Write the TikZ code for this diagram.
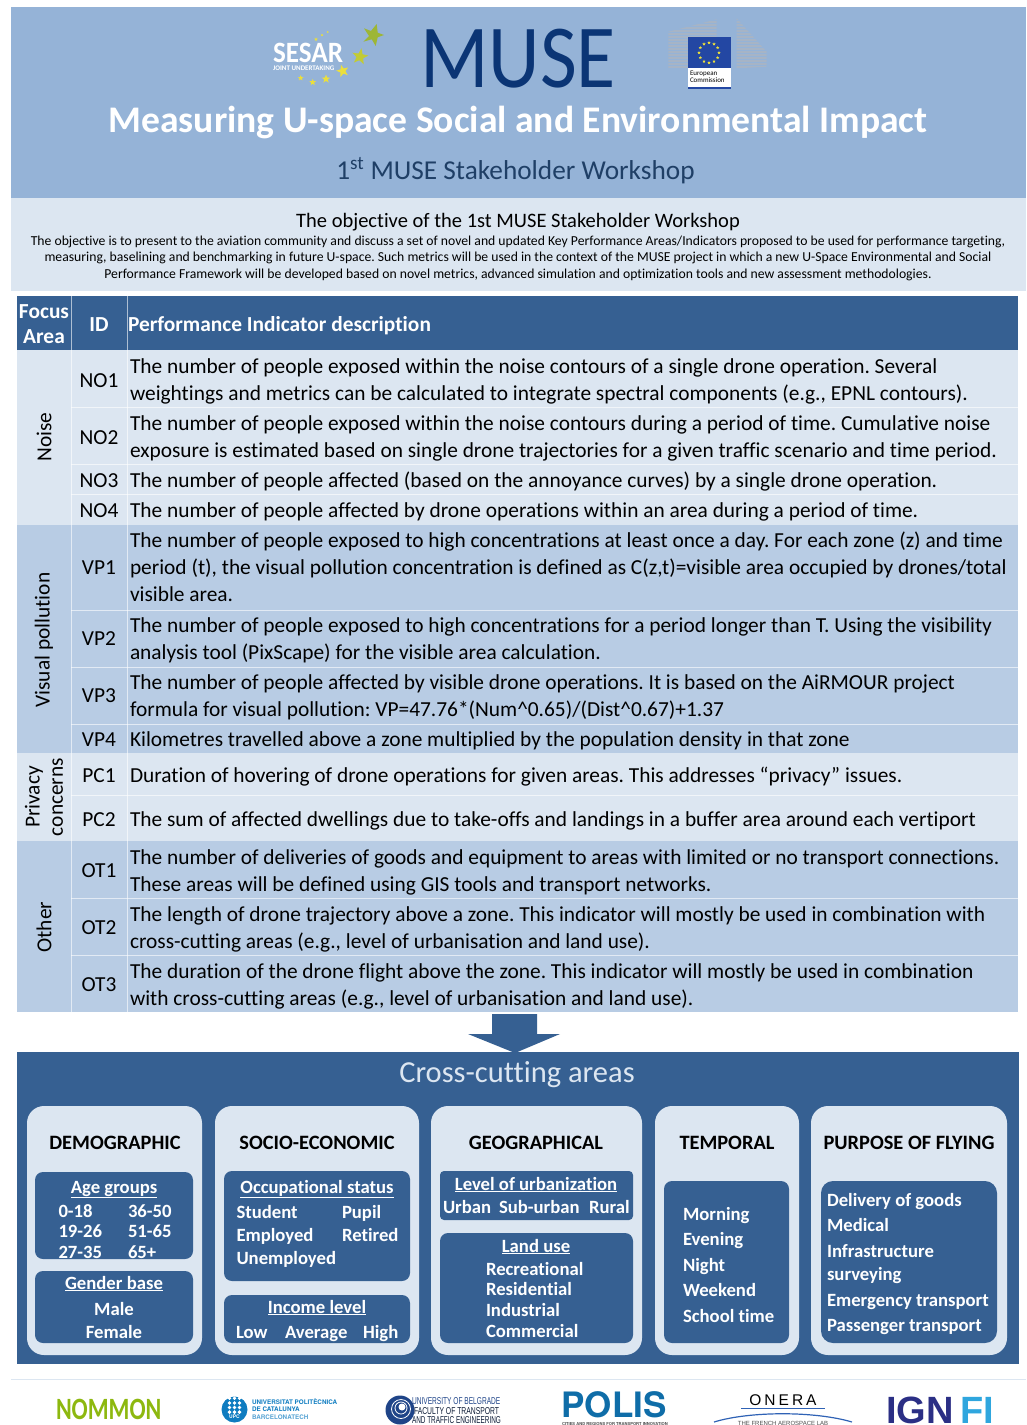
\documentclass[tikz,border=0pt]{standalone}
\usepackage{fontspec}
\usepackage{graphicx}
\setmainfont[Ligatures=CommonOff]{Carlito}
\newfontfamily\heros{TeX Gyre Heros}
\newfontfamily\libsans{Liberation Sans}
\usetikzlibrary{shapes.geometric}
\definecolor{headblue}{HTML}{95B3D7}
\definecolor{paleblue}{HTML}{DCE6F1}
\definecolor{midblue}{HTML}{B8CCE4}
\definecolor{darkblue}{HTML}{366092}
\definecolor{navy}{HTML}{0B3575}
\definecolor{subnavy}{HTML}{1F3F66}
\definecolor{sesgreen}{HTML}{9DB636}
\definecolor{sesmid}{HTML}{C2CB35}
\definecolor{sesyellow}{HTML}{EBDF3C}
\definecolor{ecblue}{HTML}{2347A3}
\definecolor{ecgrey}{HTML}{A6B4C6}
\definecolor{nomgreen}{HTML}{8DB80F}
\definecolor{upcblue}{HTML}{0F7CC0}
\definecolor{belnavy}{HTML}{1F4488}
\definecolor{polisblue}{HTML}{0F6DA8}
\definecolor{oneblue}{HTML}{2F62B5}
\definecolor{ignnavy}{HTML}{2B2F85}
\definecolor{igncyan}{HTML}{2FA6DE}
\newcommand{\fs}[1]{\fontsize{#1}{#1}\selectfont}
\frenchspacing
\tikzset{
  x=1pt,y=-1pt,
  tl/.style={anchor=base west,inner sep=0pt,outer sep=0pt},
  tc/.style={anchor=base,inner sep=0pt,outer sep=0pt},
  body/.style={tl,font=\fs{21.38},text=black},
  idtxt/.style={tc,font=\fs{21.38},text=black},
  focus/.style={anchor=center,inner sep=0pt,rotate=90,font=\fs{21.38},text=black},
  headtxt/.style={font=\fs{21.4}\bfseries,text=white},
  para/.style={tc,font=\fs{13.7},text=black},
  cathead/.style={tc,font=\fs{20.4}\bfseries,text=black},
  inl/.style={tl,font=\fs{18.7}\bfseries,text=white},
  inc/.style={tc,font=\fs{18.7}\bfseries,text=white},
  cat/.style={fill=paleblue,rounded corners=17pt},
  inbox/.style={fill=darkblue,rounded corners=8pt},
  sep/.style={draw=white,line width=0.7pt,opacity=.6},
  gstar/.style={star,star points=5,star point ratio=2.4,inner sep=0pt,draw=none},
}
\begin{document}
\begin{tikzpicture}
\useasboundingbox (0,0) rectangle (1026,1425);
% bands
\fill[headblue] (11,7) rectangle (1026,198);
\fill[paleblue] (11,198) rectangle (1026,291);
% SESAR logo
\node[tl,font=\fs{29.5}\bfseries,text=white] (sesar) at (273,62) {\scalebox{.92}[1]{SESAR}};
\node[tl,font=\fs{7}\bfseries,text=white] (joint) at (273,70) {JOINT UNDERTAKING};
\fill[sesgreen] (376.7,24) -- (377.7,32.7) -- (384,35) -- (377.7,37.3) -- (375.7,46) -- (371.7,39.3) -- (363.3,41.7) -- (369,36) -- (364,28.3) -- (371,31) -- cycle;
\node[gstar,fill=sesmid,minimum size=17pt,rotate=-10] (s2) at (360,56.7) {};
\node[gstar,fill=sesyellow,minimum size=13pt,rotate=15] (s3) at (342.7,71) {};
\node[gstar,fill=sesyellow,minimum size=9pt] (s4) at (326,79) {};
\node[gstar,fill=sesyellow,minimum size=7pt] (s5) at (312.7,82.3) {};
\node[gstar,fill=sesyellow,minimum size=6pt] (s6) at (300.7,78) {};
\node[gstar,fill=sesyellow,minimum size=4pt] (s7) at (316,39.3) {};
\node[gstar,fill=sesyellow,minimum size=3pt] (s8) at (322,35) {};
\node[gstar,fill=sesyellow,minimum size=2.5pt] (s9) at (327.7,32) {};
% MUSE
\node[tc,font=\fs{90},text=navy] (muse) at (518,87) {\scalebox{.89}[1]{MUSE}};
% EC logo
\fill[ecgrey] (668.3,31.7) -- (716.7,19.3) -- (716.7,37.3) -- (688.3,37.3) -- (688.3,68.3) -- (668.3,68.3) -- cycle;
\fill[ecgrey] (736.7,18.3) -- (766.7,51.7) -- (766.7,66.7) -- (736.7,68.3) -- cycle;
\foreach \yy in {20,23,...,68}{\draw[headblue,line width=.8pt] (666,\yy) -- (718,\yy);\draw[headblue,line width=.8pt] (735,\yy) -- (768,\yy);}
\fill[white] (688,68) rectangle (731,87);
\fill[ecblue] (688,37) rectangle (731,68);
\fill[ecblue] (688,86.5) rectangle (731,89);
\foreach \a in {0,30,...,330}{\node[gstar,fill=sesyellow,minimum size=3.5pt] at ({709+10*cos(\a)},{52.7+10*sin(\a)}) {};}
\node[tl,font=\fs{7},text=black] (ec1) at (690,75) {European};
\node[tl,font=\fs{7},text=black] (ec2) at (690,82) {Commission};
% Titles
\node[tc,font=\fs{37.6}\bfseries,text=white] (title) at (518,132) {Measuring U-space Social and Environmental Impact};
\node[tc,font=\fs{27.3},text=subnavy] (sub) at (515.5,179) {1\textsuperscript{st} MUSE Stakeholder Workshop};
\node[tc,font=\fs{20.5},text=black] (objh) at (518,227) {The objective of the 1st MUSE Stakeholder Workshop};
\node[para] (p1) at (518,245) {The objective is to present to the aviation community and discuss a set of novel and updated Key Performance Areas/Indicators proposed to be used for performance targeting,};
\node[para] (p2) at (518,261.5) {measuring, baselining and benchmarking in future U-space. Such metrics will be used in the context of the MUSE project in which a new U-Space Environmental and Social};
\node[para] (p3) at (518,278) {Performance Framework will be developed based on novel metrics, advanced simulation and optimization tools and new assessment methodologies.};
% Table fills
\fill[darkblue] (17,296) rectangle (1018,350);
\fill[paleblue] (17,350) rectangle (1018,525);
\fill[midblue] (17,525) rectangle (1018,753);
\fill[paleblue] (17,753) rectangle (1018,841);
\fill[midblue] (17,841) rectangle (1018,1012);
% separators
\foreach \yy in {407,464,494,610,667,724,795,898,955}{\draw[sep] (71,\yy) -- (1018,\yy);}
\foreach \xx in {71,127}{\draw[sep] (\xx,296) -- (\xx,1012);}
% header
\node[tc,headtxt] (hf1) at (44,318) {Focus};
\node[tc,headtxt] (hf2) at (44,343) {Area};
\node[tc,headtxt] (hid) at (99,331) {ID};
\node[tl,headtxt] (hp) at (128,331) {Performance Indicator description};
% focus areas
\node[focus] (fnoise) at (44,437) {Noise};
\node[focus] (fvp) at (44,640) {Visual pollution};
\node[focus,align=center] (fpc) at (44,797) {Privacy\\[2pt]concerns};
\node[focus] (fot) at (44,927) {Other};
% IDs
\node[idtxt] (no1) at (99,387) {NO1};
\node[idtxt] (no2) at (99,444) {NO2};
\node[idtxt] (no3) at (99,487) {NO3};
\node[idtxt] (no4) at (99,517) {NO4};
\node[idtxt] (vp1) at (99,574) {VP1};
\node[idtxt] (vp2) at (99,645) {VP2};
\node[idtxt] (vp3) at (99,702) {VP3};
\node[idtxt] (vp4) at (99,746) {VP4};
\node[idtxt] (pc1) at (99,782) {PC1};
\node[idtxt] (pc2) at (99,826) {PC2};
\node[idtxt] (ot1) at (99,877) {OT1};
\node[idtxt] (ot2) at (99,934) {OT2};
\node[idtxt] (ot3) at (99,991) {OT3};
% descriptions
\node[body] (d1a) at (130,373) {The number of people exposed within the noise contours of a single drone operation. Several};
\node[body] (d1b) at (130,400) {weightings and metrics can be calculated to integrate spectral components (e.g., EPNL contours).};
\node[body] (d2a) at (130,430) {The number of people exposed within the noise contours during a period of time. Cumulative noise};
\node[body] (d2b) at (130,457) {exposure is estimated based on single drone trajectories for a given traffic scenario and time period.};
\node[body] (d3) at (130,487) {The number of people affected (based on the annoyance curves) by a single drone operation.};
\node[body] (d4) at (130,517) {The number of people affected by drone operations within an area during a period of time.};
\node[body] (d5a) at (130,547) {The number of people exposed to high concentrations at least once a day. For each zone (z) and time};
\node[body] (d5b) at (130,574) {period (t), the visual pollution concentration is defined as C(z,t)=visible area occupied by drones/total};
\node[body] (d5c) at (130,601) {visible area.};
\node[body] (d6a) at (130,632) {The number of people exposed to high concentrations for a period longer than T. Using the visibility};
\node[body] (d6b) at (130,659) {analysis tool (PixScape) for the visible area calculation.};
\node[body] (d7a) at (130,689) {The number of people affected by visible drone operations. It is based on the AiRMOUR project};
\node[body] (d7b) at (130,716) {formula for visual pollution: VP=47.76*(Num\^{}0.65)/(Dist\^{}0.67)+1.37};
\node[body] (d8) at (130,746) {Kilometres travelled above a zone multiplied by the population density in that zone};
\node[body] (d9) at (130,782) {Duration of hovering of drone operations for given areas. This addresses “privacy” issues.};
\node[body] (d10) at (130,826) {The sum of affected dwellings due to take-offs and landings in a buffer area around each vertiport};
\node[body] (d11a) at (130,864) {The number of deliveries of goods and equipment to areas with limited or no transport connections.};
\node[body] (d11b) at (130,891) {These areas will be defined using GIS tools and transport networks.};
\node[body] (d12a) at (130,921) {The length of drone trajectory above a zone. This indicator will mostly be used in combination with};
\node[body] (d12b) at (130,948) {cross-cutting areas (e.g., level of urbanisation and land use).};
\node[body] (d13a) at (130,978) {The duration of the drone flight above the zone. This indicator will mostly be used in combination};
\node[body] (d13b) at (130,1005) {with cross-cutting areas (e.g., level of urbanisation and land use).};
% cross-cutting
\fill[darkblue] (17,1052) rectangle (1019,1364);
\fill[darkblue] (492,1014) -- (537,1014) -- (537,1034) -- (560,1034) -- (515,1053) -- (468,1034) -- (492,1034) -- cycle;
\node[tc,font=\fs{30.5},text=paleblue] (cc) at (517,1082) {Cross-cutting areas};
\fill[cat] (27,1106) rectangle (202,1355);
\fill[cat] (215,1106) rectangle (419,1355);
\fill[cat] (431,1106) rectangle (642,1355);
\fill[cat] (655,1106) rectangle (799,1355);
\fill[cat] (811,1106) rectangle (1007,1355);
\node[cathead] (c1) at (115,1149) {DEMOGRAPHIC};
\node[cathead] (c2) at (317,1149) {SOCIO-ECONOMIC};
\node[cathead] (c3) at (536,1149) {GEOGRAPHICAL};
\node[cathead] (c4) at (727,1149) {TEMPORAL};
\node[cathead] (c5) at (909,1149) {PURPOSE OF FLYING};
\fill[inbox] (35,1172) rectangle (193,1259);
\fill[inbox] (35,1271) rectangle (193,1343);
\fill[inbox] (224,1171) rectangle (410,1281);
\fill[inbox] (224,1295) rectangle (410,1343);
\fill[inbox,rounded corners=4pt] (440,1171) rectangle (633,1220);
\fill[inbox] (440,1233) rectangle (633,1343);
\fill[inbox] (664,1181) rectangle (789,1343);
\fill[inbox,rounded corners=12pt] (821,1181) rectangle (997,1343);
% demographic
\node[inc] (a0) at (114,1193) {\underline{Age groups}};
\node[inl] (a1) at (58.5,1217) {0-18};
\node[inl] (a2) at (128,1217) {36-50};
\node[inl] (a3) at (58.5,1237.5) {19-26};
\node[inl] (a4) at (128,1237.5) {51-65};
\node[inl] (a5) at (58.5,1258) {27-35};
\node[inl] (a6) at (128,1258) {65+};
\node[inc] (g0) at (114,1289) {\underline{Gender base}};
\node[inc] (g1) at (114,1315) {Male};
\node[inc] (g2) at (114,1338) {Female};
% socio
\node[inc] (o0) at (317,1193) {\underline{Occupational status}};
\node[inl] (o1) at (236.5,1218) {Student};
\node[inl] (o2) at (342,1218) {Pupil};
\node[inl] (o3) at (236.5,1241) {Employed};
\node[inl] (o4) at (342,1241) {Retired};
\node[inl] (o5) at (236.5,1264) {Unemployed};
\node[inc] (i0) at (317,1313) {\underline{Income level}};
\node[inl] (i1) at (236,1338) {Low};
\node[inl] (i2) at (285,1338) {Average};
\node[inl] (i3) at (363,1338) {High};
% geo
\node[inc] (l0) at (536,1190) {\underline{Level of urbanization}};
\node[inl] (l1) at (443,1213) {Urban};
\node[inl] (l2) at (499,1213) {Sub-urban};
\node[inl] (l3) at (589,1213) {Rural};
\node[inc] (u0) at (536,1252) {\underline{Land use}};
\node[inl] (u1) at (486,1275) {Recreational};
\node[inl] (u2) at (486,1295.5) {Residential};
\node[inl] (u3) at (486,1316) {Industrial};
\node[inl] (u4) at (486,1337) {Commercial};
% temporal
\node[inl] (t1) at (683,1220) {Morning};
\node[inl] (t2) at (683,1245.5) {Evening};
\node[inl] (t3) at (683,1271) {Night};
\node[inl] (t4) at (683,1296.5) {Weekend};
\node[inl] (t5) at (683,1322) {School time};
% purpose
\node[inl] (f1) at (827,1206) {Delivery of goods};
\node[inl] (f2) at (827,1231) {Medical};
\node[inl] (f3) at (827,1257) {Infrastructure};
\node[inl] (f4) at (827,1280) {surveying};
\node[inl] (f5) at (827,1306) {Emergency transport};
\node[inl] (f6) at (827,1331) {Passenger transport};
% footer
\draw[paleblue,line width=1pt] (11,1379) -- (1026,1379);
\node[tl,font=\fs{31}\bfseries,text=nomgreen] (nommon) at (56,1419) {\scalebox{.77}[1]{NOMMON}};
% UPC
\fill[upcblue] (234.5,1409.5) circle (13);
\foreach \i in {-1,0,1}{\foreach \j in {-2,-1,0,1}{\fill[white] ({234.5+5*\i},{1407.5+4.6*\j}) circle (1.9);}}
\node[anchor=center,inner sep=0pt,font=\heros\fs{5}\bfseries,text=white] (upct) at (234.5,1417) {UPC};
\node[tl,font=\heros\fs{6.3}\bfseries,text=upcblue] (upc1) at (252,1404.5) {UNIVERSITAT POLITÈCNICA};
\node[tl,font=\heros\fs{6.3}\bfseries,text=upcblue] (upc2) at (252,1411.5) {DE CATALUNYA};
\node[tl,font=\heros\fs{6.3}\bfseries,text=upcblue!70] (upc3) at (252,1419) {BARCELONATECH};
% Belgrade
\fill[belnavy] (400,1410) circle (14.5);
\draw[white,line width=.8pt] (401,1409) circle (9.5);
\draw[white,line width=.8pt] (401,1408) circle (6);
\fill[white] (402,1407) circle (3.5);
\node[tl,font=\libsans\fs{10},text=belnavy] (bel1) at (412,1404.5) {\scalebox{.66}[1]{UNIVERSITY OF BELGRADE}};
\node[tl,font=\libsans\fs{10},text=black!60!belnavy] (bel2) at (414,1414) {\scalebox{.68}[1]{FACULTY OF TRANSPORT}};
\node[tl,font=\libsans\fs{10},text=black!60!belnavy] (bel3) at (412,1423) {\scalebox{.64}[1]{AND TRAFFIC ENGINEERING}};
% POLIS
\node[tl,font=\heros\fs{35}\bfseries,text=polisblue] (polis) at (561.5,1417.5) {POLIS};
\node[tl,font=\heros\fs{4.1}\bfseries,text=black!70] (polis2) at (562,1425) {CITIES AND REGIONS FOR TRANSPORT INNOVATION};
% ONERA
\node[tc,font=\libsans\fs{15.5},text=black] (onera) at (783,1405) {O\hspace{3pt}N\hspace{3pt}E\hspace{3pt}R\hspace{3pt}A};
\draw[oneblue,line width=1.2pt] (741,1408.5) -- (825,1408.5);
\draw[oneblue,line width=1.2pt] (714,1422) .. controls (750,1411) and (815,1411) .. (852,1422);
\node[tc,font=\libsans\fs{6},text=black!70] (onera2) at (783,1425) {THE FRENCH AEROSPACE LAB};
% IGN FI
\node[tl,font=\libsans\fs{38}\bfseries,text=ignnavy] (ign) at (886,1423.5) {IGN};
\node[tl,font=\libsans\fs{38}\bfseries,text=igncyan] (fi) at (960,1423.5) {FI};
\end{tikzpicture}
\end{document}
